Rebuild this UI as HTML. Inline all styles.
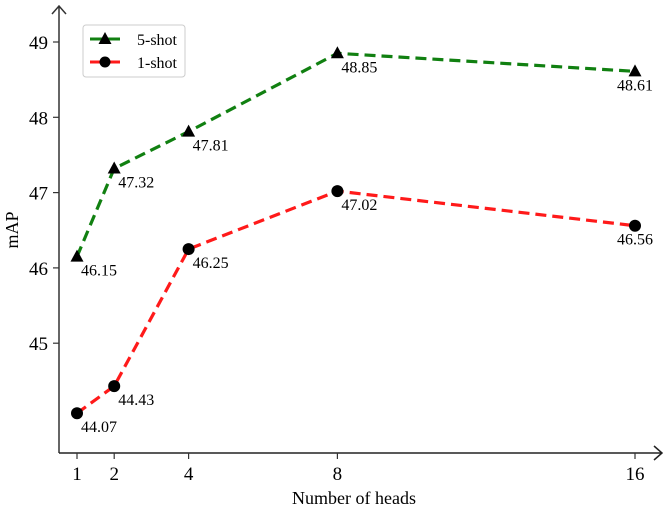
<!DOCTYPE html>
<html><head><meta charset="utf-8"><style>body{margin:0;background:#fff}svg{display:block;font-family:"Liberation Serif",serif}</style></head>
<body>
<svg id="c" width="664" height="508"></svg>
<script>
const categories=[1,2,4,8,16];
const fiveShot=[46.15,47.32,47.81,48.85,48.61];
const oneShot=[44.07,44.43,46.25,47.02,46.56];
const yTicks=[45,46,47,48,49];
const svg=document.getElementById('c');
const NS='http://www.w3.org/2000/svg';
const xs=v=>77+(v-1)*37.2;
const ys=v=>42+(49-v)*75.3;
function mk(t,a,p){const e=document.createElementNS(NS,t);for(const k in a)e.setAttribute(k,a[k]);(p||svg).appendChild(e);return e;}
let e;
e=mk('path',{d:'M59,453V6M52,14L59,6L66,14',fill:'none',stroke:'#333','stroke-width':1.5});


e=mk('path',{d:'M59,453H662M654,446L662,453L654,460',fill:'none',stroke:'#222','stroke-width':1.5});


yTicks.forEach(v=>{const y=ys(v);mk('line',{x1:53,x2:59,y1:y,y2:y,stroke:'#333','stroke-width':1.2});
e=mk('text',{x:48,y:y+7,'text-anchor':'end','font-size':19});e.textContent=v;

});
categories.forEach(v=>{const x=xs(v);mk('line',{x1:x,x2:x,y1:453,y2:459,stroke:'#333','stroke-width':1.2});
e=mk('text',{x:x,y:480,'text-anchor':'middle','font-size':19});e.textContent=v;

});
e=mk('text',{x:354,y:504,'text-anchor':'middle','font-size':18});e.textContent='Number of heads';


e=mk('text',{x:0,y:0,'text-anchor':'middle','font-size':18,transform:'translate(18,230) rotate(-90)'});e.textContent='mAP';


function series(vals,color,marker,name){
  const g=mk('g',{});
  
  
  mk('polyline',{points:vals.map((v,i)=>xs(categories[i])+','+ys(v)).join(' '),fill:'none',stroke:color,'stroke-width':3.2,'stroke-dasharray':'11,6'},g);
  vals.forEach((v,i)=>{const x=xs(categories[i]),y=ys(v);
    if(marker==='tri')mk('path',{d:`M${x},${y-7}L${x+6.5},${y+5}L${x-6.5},${y+5}Z`,fill:'#000'},g);
    else mk('circle',{cx:x,cy:y,r:6,fill:'#000'},g);
    const last=i===vals.length-1;
    const t=mk('text',{x:last?x-18:x+4,y:y+19,'font-size':16},g);t.textContent=v.toFixed(2);
    
    
  });
}
series(fiveShot,'#118011','tri','series-5-shot');
series(oneShot,'#ff1a1a','dot','series-1-shot');
const lg=mk('g',{});


mk('rect',{x:83,y:25,width:102,height:52,rx:3,fill:'#fff',stroke:'#ccc'},lg);
mk('line',{x1:90,x2:120,y1:39,y2:39,stroke:'#118011','stroke-width':3},lg);
mk('path',{d:'M105,32L111.5,44L98.5,44Z',fill:'#000'},lg);
mk('line',{x1:90,x2:120,y1:62,y2:62,stroke:'#ff1a1a','stroke-width':3},lg);
mk('circle',{cx:105,cy:62,r:5.5,fill:'#000'},lg);
e=mk('text',{x:137,y:45,'font-size':16},lg);e.textContent='5-shot';


e=mk('text',{x:137,y:68,'font-size':16},lg);e.textContent='1-shot';


</script>
</body></html>
